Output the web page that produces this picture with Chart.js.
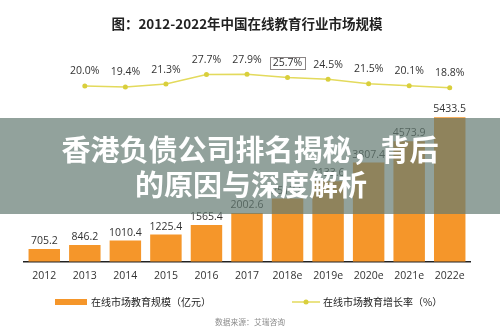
<!DOCTYPE html>
<html>
<head>
<meta charset="utf-8">
<script src="https://cdn.jsdelivr.net/npm/chart.js@4.4.0/dist/chart.umd.min.js"></script>
<style>
  html, body { margin: 0; padding: 0; background: #fff; }
  #wrap { width: 500px; height: 333px; }
</style>
</head>
<body>
<div id="wrap"><canvas id="myChart" width="500" height="333"></canvas></div>
<script>
// data
const years = ['2012', '2013', '2014', '2015', '2016', '2017', '2018e', '2019e', '2020e', '2021e', '2022e'];
const marketSize = [705.2, 846.2, 1010.4, 1225.4, 1565.4, 2002.6, 2517.6, 3133.6, 3807.4, 4573.9, 5433.5];
const growthRate = [null, 20.0, 19.4, 21.3, 27.7, 27.9, 25.7, 24.5, 21.5, 20.1, 18.8];
const boxedIndex = 6;

const sizeLabel = '在线市场教育规模（亿元）';
const rateLabel = '在线市场教育增长率（%）';
const titleText = '图：2012-2022年中国在线教育行业市场规模';
const sourceText = '数据来源：艾瑞咨询';
const bannerLines = ['香港负债公司排名揭秘，背后', '的原因与深度解析'];

const FONT = '"Open Sans", "Noto Sans CJK SC", sans-serif';
const CJK = '"Noto Sans CJK SC", "Open Sans", sans-serif';
const barColor = '#f5962a';
const lineColor = '#e3da5c';
const dotColor = '#d9cf3c';

// value labels over bars and points
const valueLabels = {
  id: 'valueLabels',
  afterDatasetsDraw(chart) {
    const ctx = chart.ctx;
    ctx.save();
    ctx.fillStyle = '#333';
    ctx.font = '10.5px ' + FONT;
    ctx.textAlign = 'center';
    ctx.textBaseline = 'middle';
    chart.getDatasetMeta(0).data.forEach(function(bar, i) {
      ctx.fillText(marketSize[i].toFixed(1), bar.x, bar.y - 8);
    });
    chart.getDatasetMeta(1).data.forEach(function(pt, i) {
      if (growthRate[i] == null) return;
      const txt = growthRate[i].toFixed(1) + '%';
      const y = pt.y - 14.5;
      ctx.fillText(txt, pt.x, y);
      if (i === boxedIndex) {
        const w = ctx.measureText(txt).width + 6;
        ctx.strokeStyle = '#8a8585';
        ctx.lineWidth = 1;
        ctx.strokeRect(Math.round(pt.x - w / 2) + 0.5, Math.round(y - 6) + 0.5, Math.round(w), 12);
      }
    });
    ctx.restore();
  }
};

// legend, source line and the grey banner on top
const extras = {
  id: 'extras',
  afterDraw(chart) {
    const ctx = chart.ctx;
    ctx.save();
    const ly = 302;
    ctx.fillStyle = barColor;
    ctx.fillRect(55, ly - 3, 32, 6);
    ctx.strokeStyle = lineColor;
    ctx.lineWidth = 1.5;
    ctx.beginPath();
    ctx.moveTo(292, ly);
    ctx.lineTo(320, ly);
    ctx.stroke();
    ctx.fillStyle = dotColor;
    ctx.beginPath();
    ctx.arc(306, ly, 2.5, 0, Math.PI * 2);
    ctx.fill();

    ctx.fillStyle = '#222';
    ctx.font = '10px ' + CJK;
    ctx.textAlign = 'left';
    ctx.textBaseline = 'middle';
    ctx.fillText(sizeLabel, 91, ly);
    ctx.fillText(rateLabel, 323, ly);

    ctx.fillStyle = '#8c8c8c';
    ctx.font = '7.8px ' + CJK;
    ctx.textAlign = 'center';
    ctx.fillText(sourceText, 250, 322);

    ctx.fillStyle = 'rgba(100, 123, 114, 0.7)';
    ctx.fillRect(0, 118, chart.width, 96);
    ctx.fillStyle = '#fff';
    ctx.font = 'bold 29px ' + CJK;
    ctx.fillText(bannerLines[0], 250, 150);
    ctx.fillText(bannerLines[1], 251, 185);
    ctx.restore();
  }
};

const data = {
  labels: years,
  datasets: [{
    type: 'bar',
    label: sizeLabel,
    data: marketSize,
    backgroundColor: barColor,
    categoryPercentage: 0.8,
    barPercentage: 0.97,
    yAxisID: 'y',
    order: 2
  }, {
    type: 'line',
    label: rateLabel,
    data: growthRate,
    borderColor: lineColor,
    borderWidth: 1.5,
    pointRadius: 2.5,
    pointBackgroundColor: dotColor,
    pointBorderColor: dotColor,
    pointBorderWidth: 0,
    yAxisID: 'y2',
    order: 1
  }]
};

const config = {
  type: 'bar',
  data: data,
  options: {
    responsive: false,
    animation: false,
    devicePixelRatio: 1,
    layout: { padding: { left: 24, right: 30, top: 0, bottom: 43 } },
    plugins: {
      legend: { display: false },
      tooltip: { enabled: false },
      title: {
        display: true,
        text: titleText,
        color: '#222',
        font: { family: CJK, size: 13.5, weight: 'bold', lineHeight: 1.2 },
        padding: { top: 16, bottom: 10 }
      }
    },
    scales: {
      x: {
        grid: { display: false, drawTicks: false },
        border: { display: true, color: '#222', width: 1.5 },
        ticks: { color: '#333', font: { family: FONT, size: 10.5 }, padding: 8 }
      },
      y: {
        display: false,
        min: 262,
        max: 8125
      },
      y2: {
        display: false,
        min: -98.5,
        max: 49.6
      }
    }
  },
  plugins: [valueLabels, extras]
};

const myChart = new Chart(document.getElementById('myChart'), config);
</script>
</body>
</html>
